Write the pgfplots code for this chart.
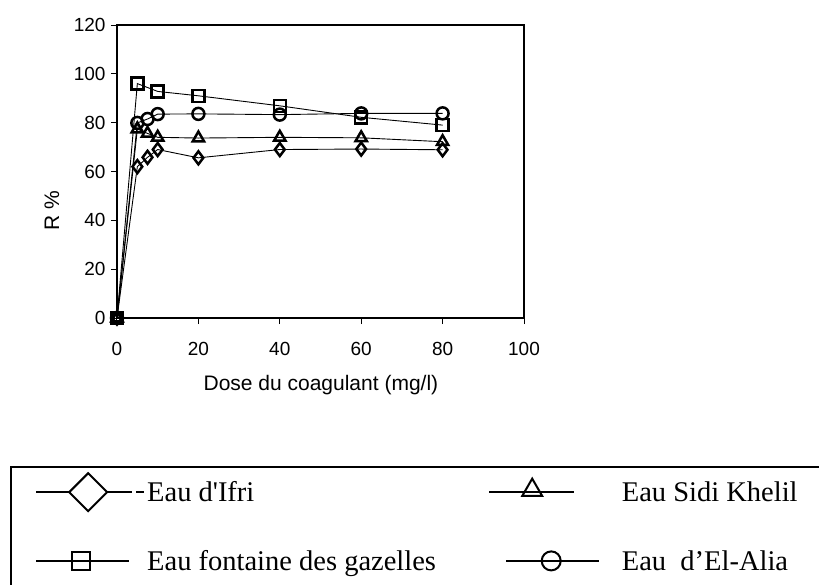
\documentclass[border=0pt]{standalone}
\usepackage{pgfplots}
\pgfplotsset{compat=1.18}
\usepackage{fontspec}
\setmainfont{Liberation Serif}
\setsansfont{Liberation Sans}
\begin{document}
\begin{tikzpicture}[x=1pt,y=1pt]
\path[use as bounding box, clip] (-117,-266) rectangle (702,318);
\begin{axis}[
  at={(0,0)}, anchor=south west,
  scale only axis, width=407pt, height=293pt,
  xmin=0, xmax=100, ymin=0, ymax=120,
  xtick={0,20,...,100}, ytick={0,20,...,120},
  tick pos=left, tick align=outside,
  major tick length=6pt,
  every tick/.style={black, line width=1pt},
  axis line style={line width=2.5pt},
  ticklabel style={font=\sffamily\fontsize{19}{22}\selectfont},
  xticklabel style={yshift=-15pt},
  yticklabel style={xshift=-2pt},
  /pgf/number format/assume math mode=true,
  label style={font=\sffamily\fontsize{21}{25}\selectfont},
  xlabel={Dose du coagulant (mg/l)},
  ylabel={R \%},
  xlabel style={at={(axis description cs:0.501,-0.229)}, anchor=center},
  ylabel style={at={(axis description cs:-0.16,0.365)}, anchor=center},
  legend columns=2,
  legend cell align=left,
  legend style={draw=none, fill=none, inner sep=0pt, column sep=0pt, row sep=37pt,
    at={(axis description cs:-0.2015,-0.529)}, anchor=north west,
    font=\rmfamily\fontsize{28.5}{34}\selectfont},
]
\addplot[forget plot, black, line width=0.9pt, mark=diamond, mark size=6.5pt, mark options={line width=2.5pt}]
  coordinates {(0,0)(5,62)(7.5,65.8)(10,69)(20,65.6)(40,69)(60,69.2)(80,68.9)};
\addplot[forget plot, black, line width=0.9pt, mark=triangle, mark size=6.5pt, mark options={line width=2.5pt}]
  coordinates {(0,0)(5,77.4)(7.5,75.6)(10,74)(20,73.7)(40,74)(60,73.8)(80,72.2)};
\addplot[forget plot, black, line width=0.9pt, mark=square, mark size=6pt, mark options={line width=2.5pt}]
  coordinates {(0,0)(5,96)(10,92.8)(20,91)(40,86.9)(60,82.2)(80,79)};
\addplot[forget plot, black, line width=0.9pt, mark=o, mark size=6pt, mark options={line width=2.5pt}]
  coordinates {(0,0)(5,79.9)(7.5,81.5)(10,83.5)(20,83.6)(40,83.3)(60,83.8)(80,83.8)};

\addlegendimage{legend image code/.code={
  \draw[black, line width=2pt] (0pt,0pt) -- (33pt,0pt) (71pt,0pt) -- (96pt,0pt) (100pt,0pt) -- (108pt,0pt);
  \draw[black, line width=2pt, mark=square, mark size=13.4pt, mark options={rotate=45, fill=white}] plot coordinates {(52pt,0pt)};
}}
\addlegendentry{Eau d\textquotesingle Ifri}
\addlegendimage{legend image code/.code={
  \path (-51pt,0pt) (130.5pt,0pt);
  \draw[black, line width=2pt] (0pt,0pt) -- (85pt,0pt);
  \draw[black, line width=2pt, mark=triangle, mark size=11.5pt, mark options={fill=white}] plot coordinates {(43pt,2pt)};
}}
\addlegendentry{Eau Sidi Khelil}
\addlegendimage{legend image code/.code={
  \draw[black, line width=2pt] (0pt,0pt) -- (93pt,0pt);
  \draw[black, line width=2pt, mark=square, mark size=9pt, mark options={fill=white}] plot coordinates {(45pt,0pt)};
}}
\addlegendentry{Eau fontaine des gazelles}
\addlegendimage{legend image code/.code={
  \path (-51pt,0pt) (130.5pt,0pt);
  \draw[black, line width=2pt] (17pt,0pt) -- (110pt,0pt);
  \draw[black, line width=2pt, mark=o, mark size=9.5pt, mark options={fill=white}] plot coordinates {(62pt,0pt)};
}}
\addlegendentry{Eau\ \ d’El-Alia}
\end{axis}
\draw[black, line width=2pt] (-106,-149) rectangle (720,-300);
\end{tikzpicture}
\end{document}
